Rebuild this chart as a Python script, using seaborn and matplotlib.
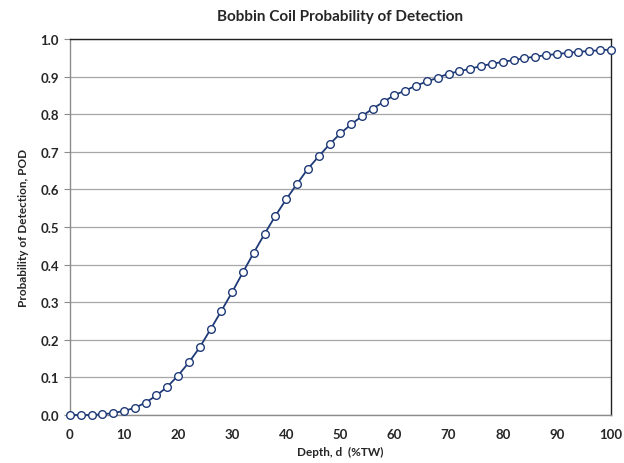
import matplotlib
matplotlib.use("Agg")
import matplotlib.pyplot as plt
import seaborn as sns
import pandas as pd

# Depth (%TW) and probability of detection
depth = list(range(0, 101, 2))
pod = [0.000, 0.000, 0.000, 0.002, 0.005, 0.011, 0.019, 0.033, 0.052, 0.075,
       0.105, 0.140, 0.180, 0.228, 0.277, 0.327, 0.380, 0.432, 0.482, 0.530,
       0.574, 0.615, 0.655, 0.688, 0.720, 0.749, 0.773, 0.795, 0.815, 0.833,
       0.851, 0.863, 0.876, 0.887, 0.897, 0.908, 0.914, 0.921, 0.928, 0.934,
       0.939, 0.944, 0.949, 0.953, 0.957, 0.960, 0.963, 0.966, 0.968, 0.970,
       0.972]

df = pd.DataFrame({"Depth": depth, "POD": pod})

sns.set_style("white")
plt.rcParams["font.family"] = ["Lato", "DejaVu Sans"]

fig = plt.figure(figsize=(6.24, 4.64), dpi=100)
ax = fig.add_axes([0.112, 0.1034, 0.867, 0.8104])

navy = "#1f3a78"
sns.lineplot(data=df, x="Depth", y="POD", ax=ax, color=navy, linewidth=1.3,
             marker="o", markersize=5.5, markerfacecolor="white",
             markeredgecolor=navy, markeredgewidth=1.0)
# keep the end markers whole, like the reference
for line in ax.lines:
    line.set_clip_on(False)
    line.set_zorder(5)

ax.set_xlim(0, 100)
ax.set_ylim(0, 1.0)
ax.set_xticks(range(0, 101, 10))
ax.set_yticks([i / 10 for i in range(11)])
ax.set_yticklabels([f"{i / 10:.1f}" for i in range(11)])
ax.yaxis.grid(True, color="#a6a6a6", linewidth=0.9)
ax.xaxis.grid(False)
ax.set_axisbelow(True)

for side in ["top", "right"]:
    ax.spines[side].set_color("#222222")
    ax.spines[side].set_linewidth(1.0)
for side in ["left", "bottom"]:
    ax.spines[side].set_color("#8c8c8c")
    ax.spines[side].set_linewidth(1.0)

ax.tick_params(axis="y", which="both", left=True, length=4, color="#8c8c8c",
               labelsize=9.5, pad=4)
ax.tick_params(axis="x", which="both", bottom=False, labelsize=9.5, pad=6)
for lbl in ax.get_xticklabels() + ax.get_yticklabels():
    lbl.set_fontweight("bold")

ax.set_xlabel("Depth, d  (%TW)", fontsize=8.5, fontweight="bold", labelpad=4)
ax.set_ylabel("Probability of Detection, POD", fontsize=8.5, fontweight="bold", labelpad=8)
ax.set_title("Bobbin Coil Probability of Detection", fontsize=11, fontweight="bold", pad=14)

fig.savefig("out.png", dpi=100)
